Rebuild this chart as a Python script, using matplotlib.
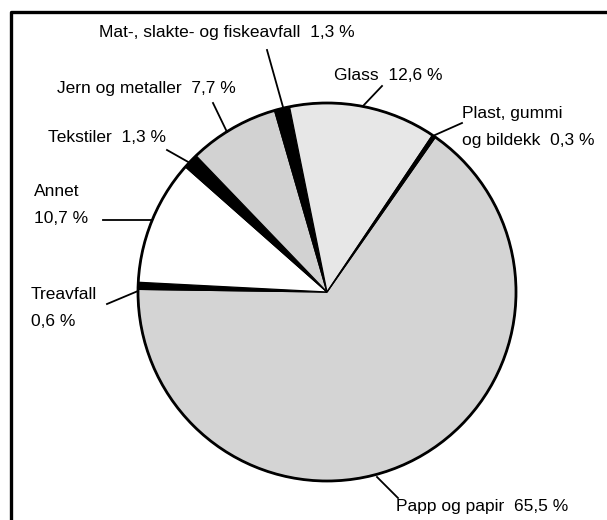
import matplotlib.pyplot as plt
from matplotlib.patches import Circle

plt.rcParams['font.family'] = ['Liberation Sans', 'DejaVu Sans']

# slices, clockwise from the Plast/Papp boundary
labels = ["Papp og papir", "Treavfall", "Annet", "Tekstiler",
          "Jern og metaller", "Mat-, slakte- og fiskeavfall", "Glass",
          "Plast, gummi\nog bildekk"]
shares = [65.5, 0.6, 10.7, 1.3, 7.7, 1.3, 12.6, 0.3]
colors = ["#d4d4d4", "black", "white", "black", "#d2d2d2", "black",
          "#e7e7e7", "black"]

# label text, text position (px) and leader line (px: text end -> pie end)
label_text = ["Papp og papir  65,5 %", "Treavfall\n0,6 %", "Annet\n10,7 %",
              "Tekstiler  1,3 %", "Jern og metaller  7,7 %",
              "Mat-, slakte- og fiskeavfall  1,3 %", "Glass  12,6 %",
              "Plast, gummi\nog bildekk  0,3 %"]
label_pos = [(396, 507), (31, 308), (34, 205), (48, 138), (57, 88),
             (99, 33), (334, 75), (462, 127)]
leaders = [((398, 498), (377, 477)), ((107, 304), (138, 291)),
           ((103, 220), (152, 220)), ((167, 150), (190, 163)),
           ((213, 103), (227, 132)), ((267, 50), (283, 107)),
           ((382, 86), (363, 106)), ((462, 123), (435, 135))]

W, H = 607, 520
fig = plt.figure(figsize=(W / 100, H / 100), dpi=100)
ax = fig.add_axes([0, 0, 1, 1])

cx, cy, r = 327, H - 292, 189
ax.pie(shares, colors=colors, startangle=55, counterclock=False,
       center=(cx, cy), radius=r, frame=True,
       wedgeprops=dict(linewidth=0.9, edgecolor='black'))
ax.add_patch(Circle((cx, cy), r, fill=False, lw=2.0, ec='black'))
ax.set_xlim(0, W)
ax.set_ylim(0, H)
ax.set_aspect('equal')
ax.axis('off')

for txt, (x, y) in zip(label_text, label_pos):
    ax.text(x, H - y, txt, fontsize=12.5, ha='left', va='center',
            linespacing=2.0)
for (x0, y0), (x1, y1) in leaders:
    ax.plot([x0, x1], [H - y0, H - y1], color='black', lw=1.3)

# frame (runs off the right and bottom edge)
ax.plot([11, 11, W + 5], [-5, H - 12, H - 12], color='black', lw=2.4,
        clip_on=False)

fig.savefig("out.png", dpi=100)
